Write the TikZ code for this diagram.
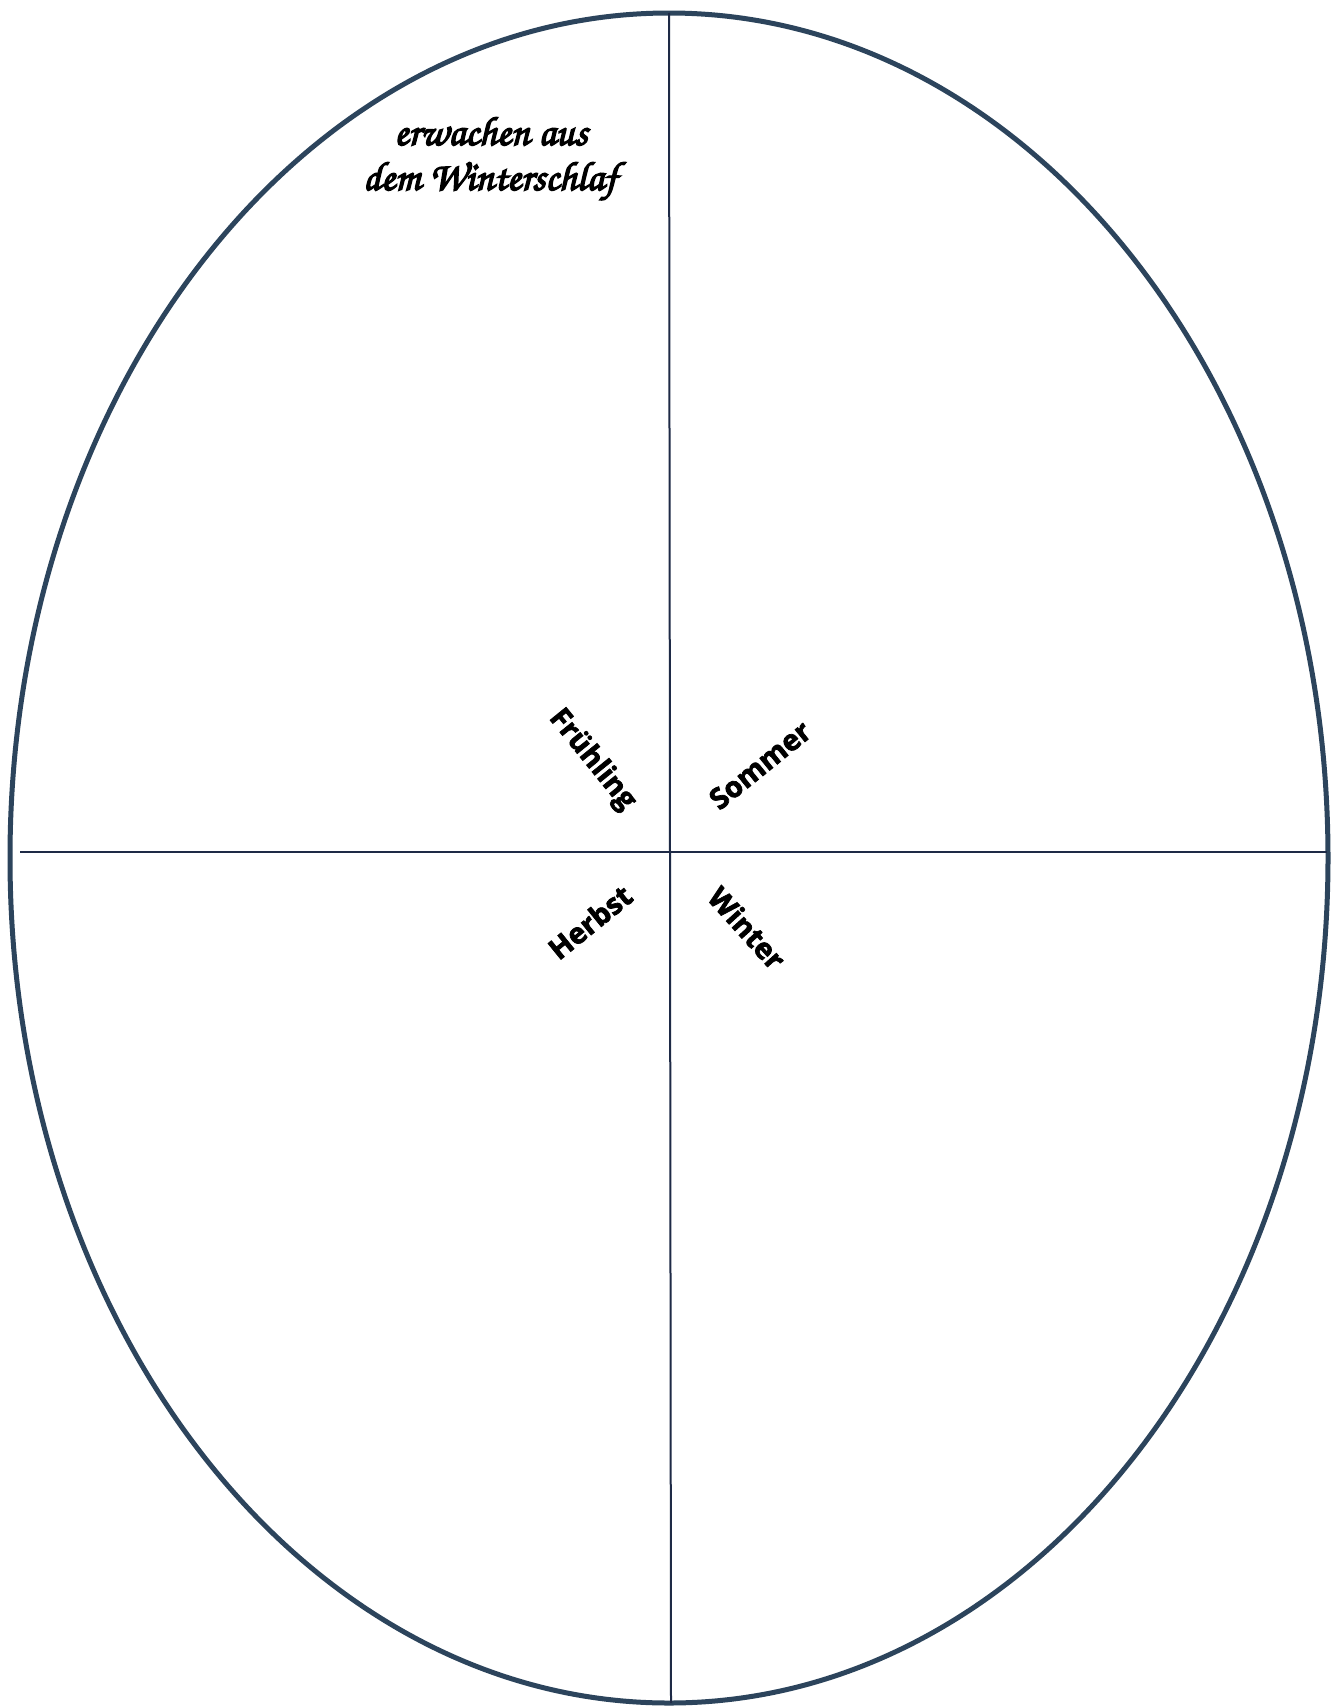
\documentclass[tikz,border=0pt]{standalone}
\usepackage{fontspec}
\setmainfont{Open Sans}
\newfontface\handfont[FakeBold=3.5]{TeX Gyre Chorus}
\newfontface\labelfont[FakeBold=2.5]{Open Sans Bold}
\definecolor{rimcol}{RGB}{44,68,92}
\definecolor{axiscol}{RGB}{30,42,70}
\tikzset{
  rim/.style={draw=rimcol, line width=5bp},
  axis/.style={draw=axiscol, line width=2bp},
  season/.style={font=\labelfont\fontsize{29}{31}\selectfont, text=black, inner sep=0pt},
  note/.style={font=\handfont\fontsize{41}{44}\selectfont, text=black, inner sep=0pt, anchor=base}
}
\begin{document}
\begin{tikzpicture}[x=1bp,y=-1bp]
\useasboundingbox[fill=white] (0,0) rectangle (1335,1707);
\draw[rim] (669,858) ellipse [x radius=659, y radius=845];
\coordinate (top) at (669,13);
\coordinate (bottom) at (671,1703);
\coordinate (left) at (20,852);
\coordinate (right) at (1327,852);
\draw[axis] (top) -- (bottom);
\draw[axis] (left) -- (right);
\node[note] (n1) at (491,145) {erwachen aus};
\node[note] (n2) at (490,190) {dem Winterschlaf};
\node[season, rotate=-51] (fr) at (592,760) {Frühling};
\node[season, rotate=39] (so) at (760,765) {Sommer};
\node[season, rotate=39] (he) at (590,922) {Herbst};
\node[season, rotate=-48] (wi) at (747,928) {Winter};
\end{tikzpicture}
\end{document}
